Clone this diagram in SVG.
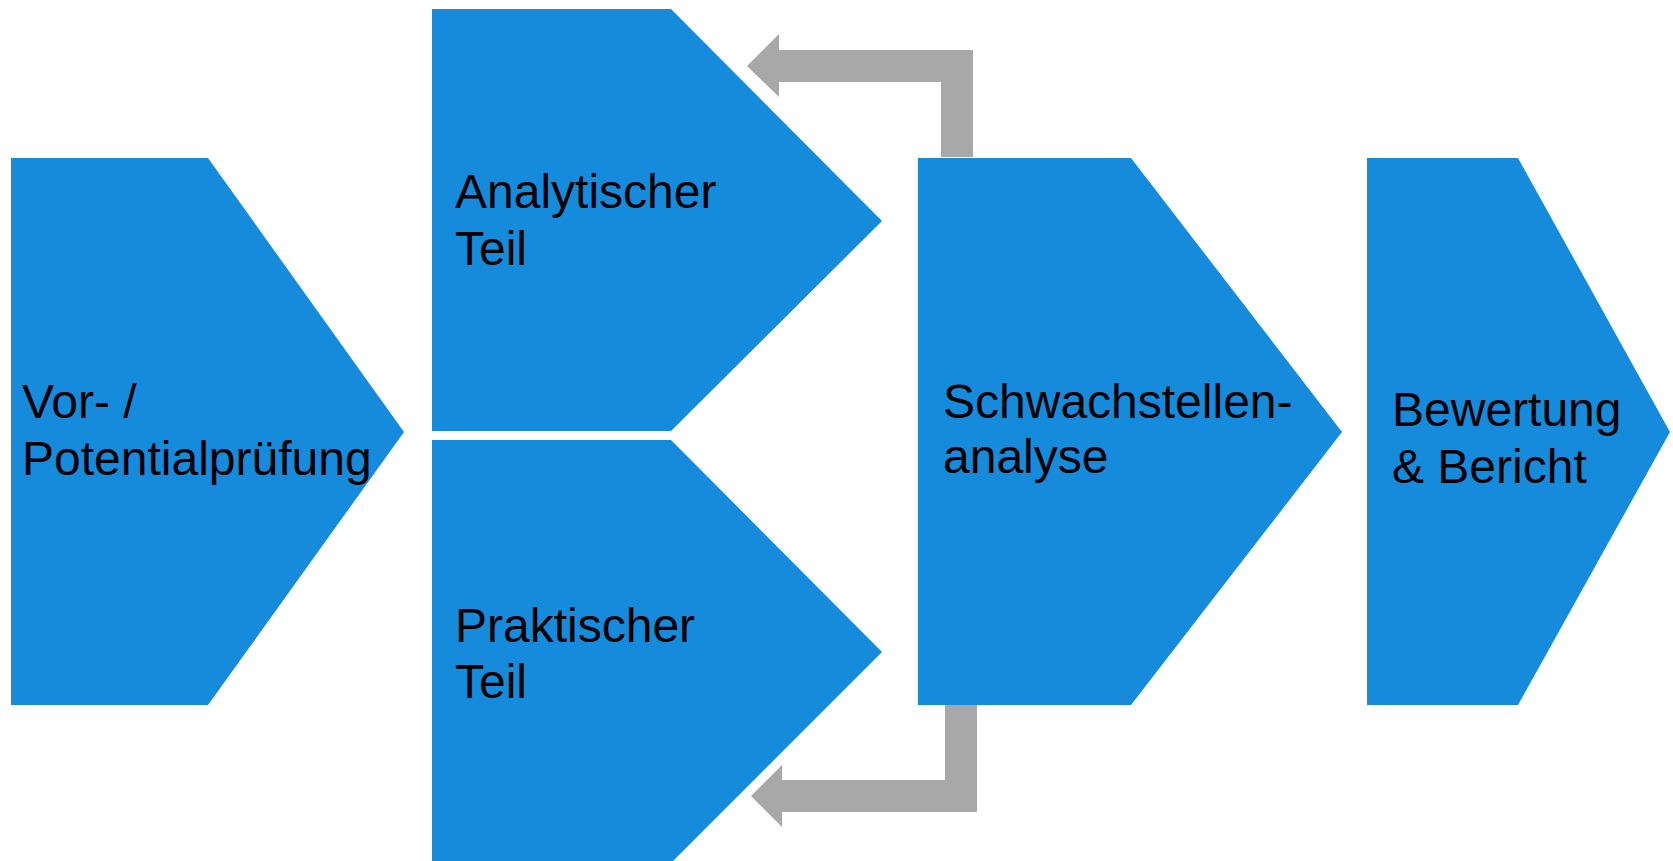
<svg xmlns="http://www.w3.org/2000/svg" width="1673" height="861" viewBox="0 0 1673 861">
  <style>
    .step { fill: #168ADB; }
    .loop { fill: #A8A8A8; }
    .label { font-family: "Liberation Sans", Arial, sans-serif; font-size: 48px; fill: #000000; }
  </style>
  <rect width="1673" height="861" fill="#FFFFFF"/>

  <!-- feedback arrows from the weak-point analysis back to both test parts -->
  <g id="connectors">
    <polygon class="loop" points="973,157 973,50 779,50 779,34 747,66 779,97 779,82 941,82 941,157"/>
    <polygon class="loop" points="945,705 977,705 977,812 782,812 782,827 751,796 782,765 782,780 945,780"/>
  </g>

  <g id="vorpruefung">
    <polygon class="step" points="11,158 208,158 404,432 208,705 11,705"/>
    <text class="label" x="22" y="418">Vor- /</text>
    <text class="label" x="22" y="475">Potentialprüfung</text>
  </g>

  <g id="analytisch">
    <polygon class="step" points="432,9 671,9 882,221 671,431 432,431"/>
    <text class="label" x="455" y="208">Analytischer</text>
    <text class="label" x="455" y="265">Teil</text>
  </g>

  <g id="praktisch">
    <polygon class="step" points="432,440 671,440 882,652 671,863 432,863"/>
    <text class="label" x="455" y="642">Praktischer</text>
    <text class="label" x="455" y="698">Teil</text>
  </g>

  <g id="schwachstellen">
    <polygon class="step" points="918,158 1131,158 1342,432 1131,705 918,705"/>
    <text class="label" x="943" y="418">Schwachstellen-</text>
    <text class="label" x="943" y="473">analyse</text>
  </g>

  <g id="bewertung">
    <polygon class="step" points="1367,158 1518,158 1670,432 1518,705 1367,705"/>
    <text class="label" x="1392" y="426">Bewertung</text>
    <text class="label" x="1392" y="483">&amp; Bericht</text>
  </g>
</svg>
